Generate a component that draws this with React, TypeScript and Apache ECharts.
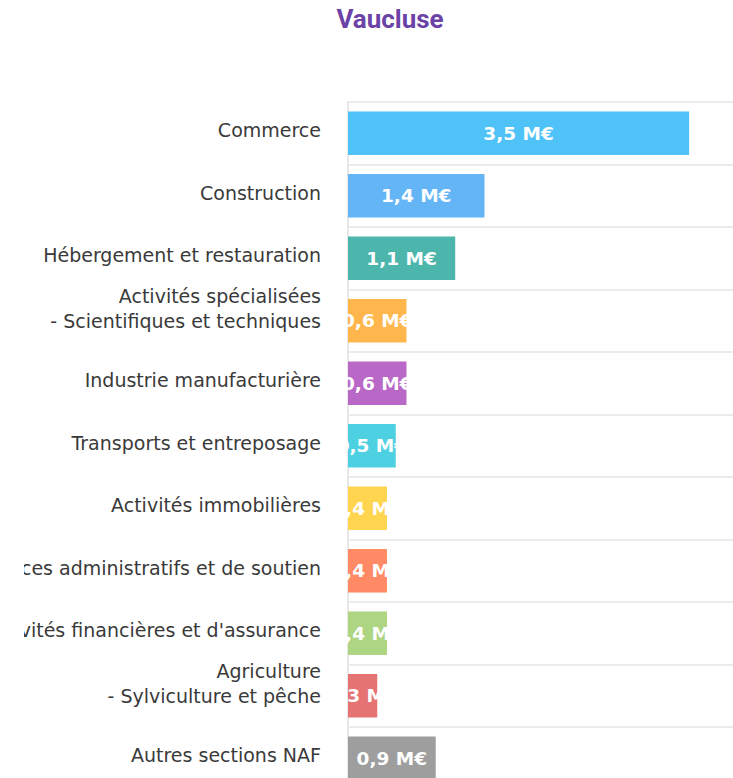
import React, { useEffect, useRef } from 'react';
import * as echarts from 'echarts';

const title = 'Vaucluse';
const categories = [
  'Commerce',
  'Construction',
  'Hébergement et restauration',
  'Activités spécialisées\n- Scientifiques et techniques',
  'Industrie manufacturière',
  'Transports et entreposage',
  'Activités immobilières',
  'Services administratifs et de soutien',
  'Activités financières et d\'assurance',
  'Agriculture\n- Sylviculture et pêche',
  'Autres sections NAF',
];
const values = [3.5, 1.4, 1.1, 0.6, 0.6, 0.49, 0.4, 0.4, 0.4, 0.3, 0.9];
const colors = [
  '#4fc3f7', '#64b5f6', '#4db6ac', '#ffb74d', '#ba68c8', '#4dd0e1',
  '#ffd54f', '#ff8a65', '#aed581', '#e57373', '#9e9e9e',
];
const unit = ' M€';

export default function App() {
  const ref = useRef<HTMLDivElement>(null);
  useEffect(() => {
    const chart = echarts.init(ref.current!, null, { renderer: 'svg' });
    chart.setOption({
      animation: false,
      title: {
        text: title,
        left: 390,
        textAlign: 'center',
        top: 6,
        padding: 0,
        textStyle: { fontFamily: 'Roboto', fontWeight: 'bold', fontSize: 26, color: '#6b42a6' },
      },
      grid: { left: 348, right: 0, top: 102, bottom: -11.5, containLabel: false, outerBoundsMode: 'none' },
      xAxis: {
        type: 'value',
        min: 0,
        max: 3.95,
        show: false,
      },
      yAxis: {
        type: 'category',
        inverse: true,
        data: categories,
        axisTick: { show: false },
        axisLine: { show: true, lineStyle: { color: '#e8e8e8', width: 2 } },
        splitLine: { show: true, interval: 0, lineStyle: { color: '#ebebeb', width: 2 } },
        axisLabel: {
          interval: 0,
          margin: 27,
          fontFamily: 'DejaVu Sans',
          fontSize: 19,
          lineHeight: 25,
          color: '#3a3a3a',
          align: 'right',
          formatter: (v: string) => (v.includes('\n') ? v + '\n' : v + '\n{s|}'),
          rich: { s: { lineHeight: 6, fontSize: 1 } },
        },
      },
      graphic: [
        {
          type: 'rect',
          left: 0,
          top: 100,
          z: 100,
          shape: { width: 24, height: 680 },
          style: { fill: '#ffffff' },
        },
      ],
      series: [
        {
          type: 'bar',
          data: values.map((v, i) => ({ value: v, itemStyle: { color: colors[i] } })),
          barCategoryGap: '30.5%',
          label: {
            show: true,
            position: 'inside',
            color: '#ffffff',
            fontFamily: 'DejaVu Sans',
            fontWeight: 'bold',
            fontSize: 18.5,
            formatter: (p: any) => p.value.toFixed(1).replace('.', ',') + unit,
          },
        },
      ],
    });
    return () => chart.dispose();
  }, []);
  return (
    <div
      ref={ref}
      style={{ position: 'absolute', left: 0, top: 0, width: 733, height: 778, background: '#ffffff' }}
    />
  );
}
